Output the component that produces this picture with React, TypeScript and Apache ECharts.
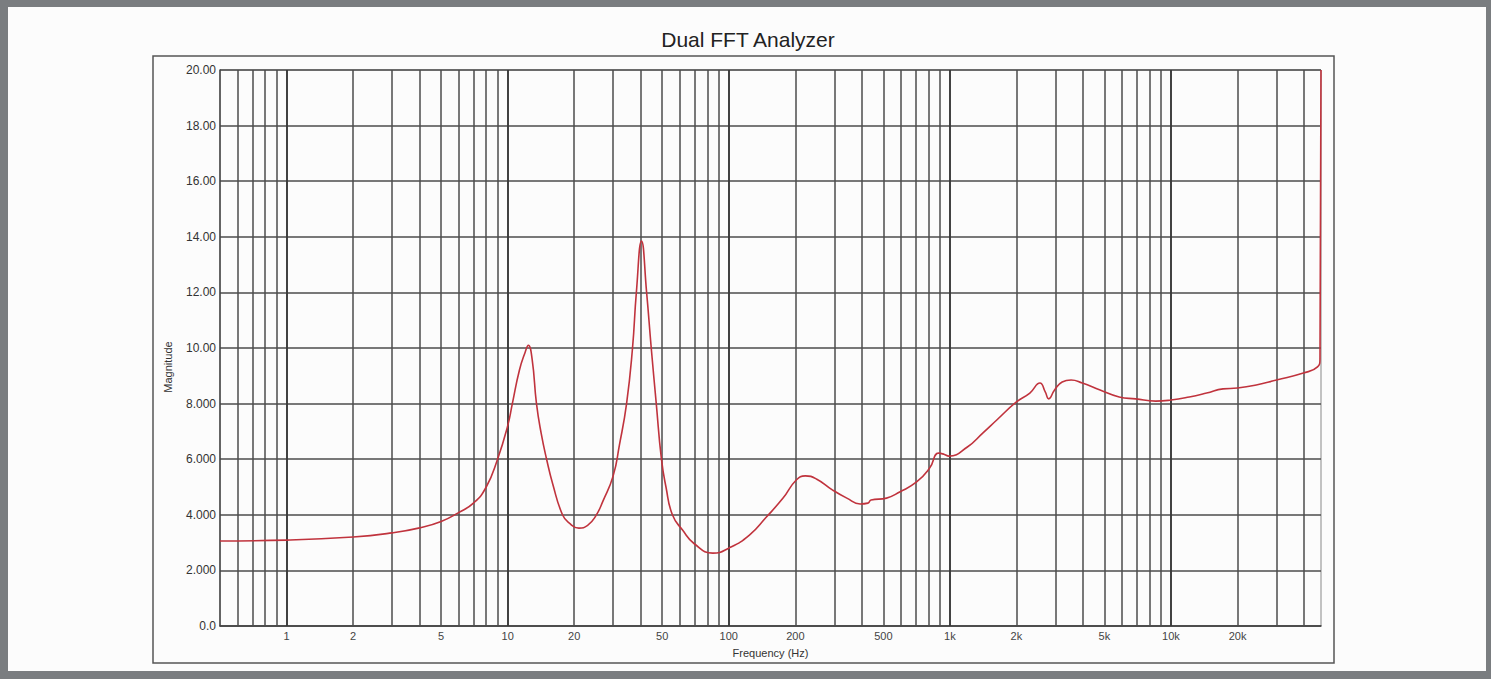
import React, { useEffect, useRef } from "react";
import * as echarts from "echarts";

// Frequency (Hz) and magnitude
const FREQ = [
  0.5, 1, 2, 3, 4, 5, 6, 7, 8, 9, 10, 10.5, 11.3, 12, 12.4, 12.9, 13.5, 14.2, 15, 16, 17.7, 19, 21, 23, 25, 27, 30, 32,
  34.5, 36.7, 38.2, 40.3, 42.5, 44.6, 47, 49.6, 52, 55.6, 61.8, 70, 84.7, 100, 124, 148, 176, 202, 222, 249, 295, 342,
  393, 426, 440, 517, 593, 707, 810, 888, 940, 990, 1200, 1408, 1630, 2000, 2300, 2556, 2700, 2800, 2975, 3220, 3535,
  3970, 4780, 5830, 6930, 8520, 10000, 12100, 14500, 17200, 20000, 24300, 30000, 39700, 46000, 47200, 47700,
];
const MAG = [
  3.06, 3.09, 3.2, 3.35, 3.53, 3.76, 4.08, 4.42, 5.0, 6.0, 7.2, 8.0, 9.2, 9.85, 10.1, 9.6, 8.0, 6.9, 6.0, 5.1, 4.0, 3.7,
  3.52, 3.62, 3.95, 4.5, 5.4, 6.5, 8.0, 10.0, 12.0, 13.85, 12.0, 10.0, 8.0, 6.0, 5.0, 4.0, 3.45, 2.95, 2.62, 2.8, 3.27,
  3.92, 4.6, 5.25, 5.4, 5.29, 4.89, 4.6, 4.39, 4.42, 4.53, 4.6, 4.82, 5.18, 5.68, 6.22, 6.18, 6.11, 6.44, 6.94, 7.41,
  8.06, 8.38, 8.74, 8.42, 8.17, 8.49, 8.78, 8.85, 8.74, 8.49, 8.24, 8.17, 8.09, 8.13, 8.24, 8.38, 8.53, 8.56, 8.67,
  8.85, 9.1, 9.32, 9.6, 20,
];

// Axis ticks
const X_MIN = 0.5;
const X_MAX = 47700;
const X_TICK_LABELS = [1, 2, 5, 10, 20, 50, 100, 200, 500, 1000, 2000, 5000, 10000, 20000];
const DECADES = [0.1, 1, 10, 100, 1000, 10000];
const MULTIPLES = [1, 2, 3, 4, 5, 6, 7, 8, 9];
const Y_MIN = 0;
const Y_MAX = 20;
const Y_STEP = 2;

const FONT = "'Liberation Sans', Arial, Helvetica, sans-serif";

function fmtFreq(v: number): string {
  return v >= 1000 ? `${v / 1000}k` : `${v}`;
}

function fmtMag(v: number): string {
  if (v === 0) return "0.0";
  if (v >= 10) return v.toFixed(2);
  return v.toFixed(3);
}

export default function App() {
  const ref = useRef<HTMLDivElement>(null);

  useEffect(() => {
    if (!ref.current) return;
    const chart = echarts.init(ref.current, undefined, { renderer: "svg" });

    const gridLines: any[] = [];
    DECADES.forEach((d) => {
      MULTIPLES.forEach((m) => {
        const f = Math.round(d * m * 1000) / 1000;
        if (f <= X_MIN || f >= X_MAX) return;
        const labeled = X_TICK_LABELS.indexOf(f) >= 0;
        gridLines.push({
          xAxis: f,
          lineStyle: { width: m === 1 ? 1.9 : 1.5, color: m === 1 ? "#383838" : "#4d4d4d", type: "solid" },
          label: labeled
            ? { show: true, position: "start", distance: 4, formatter: fmtFreq(f), color: "#444", fontSize: 11, fontFamily: FONT }
            : { show: false },
        });
      });
    });

    const data = FREQ.map((f, i) => [f, MAG[i]]);

    chart.setOption({
      animation: false,
      backgroundColor: "transparent",
      title: {
        text: "Dual FFT Analyzer",
        left: 743,
        textAlign: "center",
        top: 24,
        textStyle: { fontSize: 21, fontWeight: "normal", color: "#222", fontFamily: FONT },
      },
      graphic: [
        {
          type: "rect",
          shape: { x: 153, y: 56, width: 1181, height: 607 },
          style: { fill: "none", stroke: "#555", lineWidth: 1.5 },
          silent: true,
        },
        {
          type: "text",
          x: 168,
          y: 367,
          rotation: Math.PI / 2,
          style: {
            text: "Magnitude",
            fontSize: 11,
            fontFamily: FONT,
            fill: "#333",
            align: "center",
            verticalAlign: "middle",
          },
          silent: true,
        },
      ],
      grid: {
        left: 220,
        right: 170,
        top: 70,
        bottom: 53,
        show: true,
        borderColor: "#888",
        borderWidth: 1,
      },
      xAxis: {
        type: "log",
        logBase: 10,
        min: X_MIN,
        max: X_MAX,
        name: "Frequency (Hz)",
        nameLocation: "middle",
        nameGap: 21,
        nameTextStyle: { fontSize: 11, color: "#333", fontFamily: FONT },
        axisLine: { show: true, lineStyle: { color: "#444", width: 1.5 } },
        axisTick: { show: false },
        axisLabel: { show: false },
        splitLine: { show: false },
        minorSplitLine: { show: false },
      },
      yAxis: {
        type: "value",
        min: Y_MIN,
        max: Y_MAX,
        interval: Y_STEP,
        axisLine: { show: true, lineStyle: { color: "#444", width: 1.5 } },
        axisTick: { show: false },
        axisLabel: { formatter: fmtMag, color: "#333", fontSize: 12, fontFamily: FONT, margin: 4 },
        splitLine: { show: true, lineStyle: { color: "#4d4d4d", width: 1.5 } },
      },
      series: [
        {
          type: "line",
          data: [[X_MIN, -1]],
          symbol: "none",
          lineStyle: { opacity: 0 },
          silent: true,
          z: 1,
          markLine: {
            silent: true,
            symbol: ["none", "none"],
            z: 1,
            animation: false,
            data: gridLines,
          },
        },
        {
          type: "line",
          data,
          symbol: "none",
          smooth: 0.5,
          z: 5,
          lineStyle: { color: "#c0333d", width: 1.6 },
        },
      ],
    });

    return () => chart.dispose();
  }, []);

  return (
    <div style={{ position: "fixed", left: 0, top: 0, width: 1491, height: 679, background: "#7a7d80" }}>
      <div style={{ position: "absolute", left: 8, top: 7, width: 1478, height: 664, background: "#fcfcfc" }} />
      <div ref={ref} style={{ position: "absolute", left: 0, top: 0, width: 1491, height: 679 }} />
    </div>
  );
}
